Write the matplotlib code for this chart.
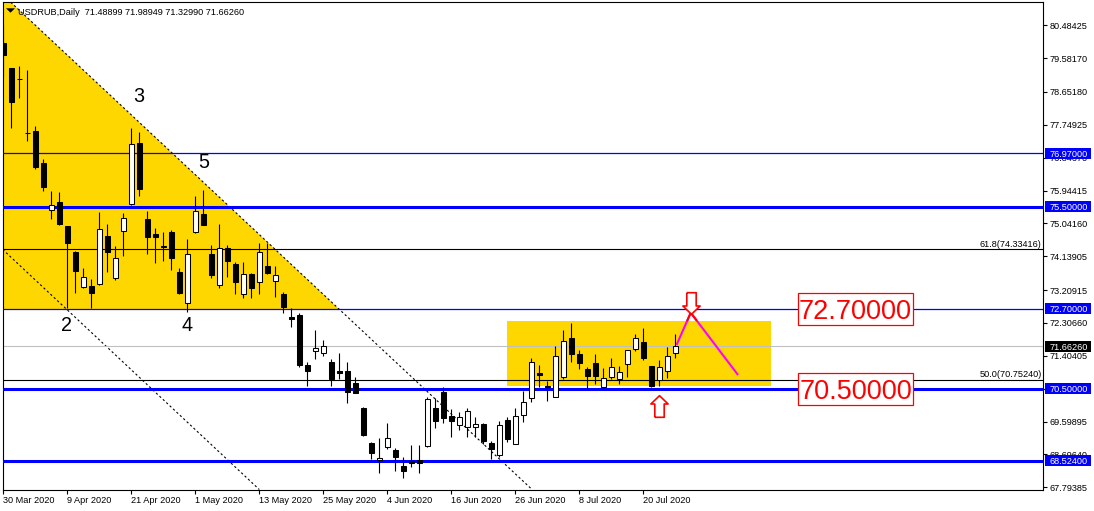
import matplotlib
matplotlib.use("Agg")
import matplotlib.pyplot as plt
import matplotlib.transforms as mtransforms
from matplotlib.patches import Rectangle, Polygon
from matplotlib.path import Path

plt.rcParams['font.family'] = ['Liberation Sans', 'DejaVu Sans']

# ---------------- data ----------------
symbol = "USDRUB,Daily"
date_labels = ["30 Mar 2020", "9 Apr 2020", "21 Apr 2020", "1 May 2020", "13 May 2020",
               "25 May 2020", "4 Jun 2020", "16 Jun 2020", "26 Jun 2020", "8 Jul 2020",
               "20 Jul 2020"]
date_label_bars = [0, 8, 16, 24, 32, 40, 48, 56, 64, 72, 80]

opens = [80.00, 79.31, 79.01, 77.53, 77.58, 76.70, 75.41, 75.63, 74.96, 74.26,
         73.29, 73.32, 73.37, 74.70, 73.53, 74.84, 75.57, 77.24, 75.16, 74.75,
         74.41, 74.80, 73.72, 72.85, 74.81, 75.29, 74.20, 73.34, 74.36, 73.93,
         73.09, 73.65, 73.44, 73.87, 73.45, 73.10, 72.46, 72.53, 71.15, 71.54,
         71.47, 71.24, 70.99, 70.99, 70.65, 69.98, 69.00, 68.53, 68.89, 68.82,
         68.38, 68.52, 68.54, 68.93, 69.96, 70.40, 69.75, 69.50, 69.46, 69.46,
         69.53, 69.02, 68.68, 69.64, 68.98, 69.78, 70.24, 70.92, 70.57, 70.26,
         70.83, 71.89, 71.45, 71.04, 71.20, 70.56, 70.83, 70.77, 71.17, 71.58,
         71.78, 71.12, 70.74, 70.99, 71.48899]
highs = [80.49, 79.31, 79.37, 79.26, 77.72, 76.81, 75.93, 75.90, 74.97, 74.28,
         73.82, 73.51, 75.35, 75.03, 74.42, 75.32, 77.65, 77.56, 75.38, 74.91,
         74.80, 74.86, 73.81, 74.61, 75.79, 75.96, 74.45, 75.03, 74.45, 73.99,
         73.97, 73.67, 74.51, 74.51, 73.88, 73.15, 72.73, 72.57, 71.22, 72.11,
         71.84, 71.32, 71.49, 71.24, 70.83, 69.99, 69.03, 69.14, 69.55, 68.86,
         68.63, 68.95, 68.95, 70.26, 70.24, 70.54, 69.93, 69.87, 69.96, 69.72,
         69.55, 69.06, 69.62, 69.73, 69.96, 70.44, 71.34, 71.15, 70.71, 71.67,
         72.11, 72.31, 71.56, 71.09, 71.45, 71.06, 71.34, 71.12, 71.56, 72.00,
         72.16, 71.12, 71.29, 71.65, 71.98949]
lows = [79.06, 77.66, 78.49, 77.31, 76.54, 75.93, 75.16, 75.00, 72.72, 73.13,
        73.27, 72.71, 73.35, 73.72, 73.49, 74.15, 75.56, 75.80, 74.20, 73.96,
        74.02, 73.76, 73.10, 72.62, 74.79, 74.99, 73.53, 73.28, 73.58, 73.09,
        72.98, 72.98, 73.09, 73.65, 73.01, 72.57, 72.20, 71.10, 70.57, 71.32,
        71.40, 70.57, 70.76, 70.12, 70.37, 69.20, 68.56, 68.19, 68.84, 68.25,
        68.04, 68.36, 68.19, 68.91, 69.41, 69.57, 69.17, 69.37, 69.17, 69.18,
        68.98, 68.56, 68.63, 69.04, 68.97, 69.59, 70.14, 70.54, 70.17, 70.26,
        70.76, 71.22, 71.03, 70.48, 70.63, 70.48, 70.76, 70.63, 70.83, 71.54,
        71.29, 70.54, 70.57, 70.80, 71.32990]
closes = [79.67, 78.38, 79.00, 77.52, 76.59, 76.04, 75.55, 75.03, 74.50, 73.73,
          73.56, 73.14, 74.88, 74.26, 74.08, 75.18, 77.22, 75.98, 74.68, 74.68,
          74.40, 74.10, 73.12, 74.19, 75.39, 75.01, 73.63, 74.36, 74.02, 73.44,
          73.64, 73.28, 74.25, 73.69, 73.62, 72.75, 72.41, 71.15, 71.00, 71.61,
          71.67, 70.76, 70.94, 70.42, 70.37, 69.23, 68.74, 68.59, 69.14, 68.62,
          68.25, 68.47, 68.47, 70.21, 69.62, 69.69, 69.62, 69.72, 69.90, 69.52,
          69.07, 68.84, 69.50, 69.11, 69.75, 70.13, 71.23, 70.89, 70.54, 71.41,
          71.81, 71.45, 71.20, 70.86, 70.86, 70.79, 71.09, 70.95, 71.55, 71.89,
          71.35, 70.57, 71.09, 71.40, 71.66260]

price_ticks = [80.48425, 79.58170, 78.65180, 77.74925, 76.84670, 75.94415, 75.04160,
               74.13905, 73.20915, 72.30660, 71.40405, 70.50150, 69.59895, 68.69640,
               67.79385]

level_prices = [76.97, 75.50, 72.70, 70.50, 68.524]
level_thick = [False, True, False, True, True]
fib_names = ["61.8", "50.0"]
fib_prices = [74.33416, 70.75240]
bid_price = 71.66260

wave_names = ["2", "3", "4", "5"]
wave_bars = [7.96, 16.93, 22.96, 25.0]
wave_prices = [72.085, 78.385, 72.085, 76.555]

trend_upper_bars = [-0.075, 66.0]
trend_upper_prices = [81.325, 67.75]
trend_lower_bars = [-0.075, 32.0]
trend_lower_prices = [74.325, 67.73]

range_bars = [63.0, 96.0]
range_prices = [70.574, 72.36]

forecast_bars = [84.15, 85.93, 91.84]
forecast_prices = [71.70, 72.588, 70.877]

target_prices = [72.70, 70.50]
arrow_down = (86.0, 72.868)
arrow_up = (81.93, 70.025)

# ---------------- figure ----------------
W, H = 1094, 511
fig = plt.figure(figsize=(W / 100, H / 100), dpi=100)
fig.patch.set_facecolor('white')
L_px, R_px, T_px, B_px = 2.7, 1043.0, 2.3, 490.0
ax = fig.add_axes([L_px / W, 1 - B_px / H, (R_px - L_px) / W, (B_px - T_px) / H])
ax.set_xlim(-0.075, 129.96)
ax.set_ylim(67.717, 81.116)
ax.set_facecolor('white')
px_price = (81.116 - 67.717) / (B_px - T_px)
ax_w_px = R_px - L_px

for s in ax.spines.values():
    s.set_color('black')
    s.set_linewidth(0.8)

GOLD = '#FFD700'
BLUE = '#0000FF'

# yellow triangle (between left edge, upper trend line and 72.70)
slope = (trend_upper_prices[1] - trend_upper_prices[0]) / (trend_upper_bars[1] - trend_upper_bars[0])
x_cross = trend_upper_bars[0] + (level_prices[2] - trend_upper_prices[0]) / slope
ax.add_patch(Polygon([(trend_upper_bars[0], trend_upper_prices[0]),
                      (trend_upper_bars[0], level_prices[2]),
                      (x_cross, level_prices[2])],
                     closed=True, facecolor=GOLD, edgecolor='none', zorder=1))
# yellow range rectangle
ax.add_patch(Rectangle((range_bars[0], range_prices[0]), range_bars[1] - range_bars[0],
                       range_prices[1] - range_prices[0], facecolor=GOLD,
                       edgecolor='none', zorder=1))

# dashed trend lines
ax.plot(trend_upper_bars, trend_upper_prices, color='black', lw=0.8,
        linestyle=(0, (2.0, 2.2)), zorder=2)
ax.plot(trend_lower_bars, trend_lower_prices, color='black', lw=0.8,
        linestyle=(0, (2.0, 2.2)), zorder=2)

# horizontal lines
ax.axhline(bid_price, color='#C0C0C0', lw=0.8, zorder=2)
for p in fib_prices:
    ax.axhline(p, color='black', lw=0.8, zorder=3)
for p, thick in zip(level_prices, level_thick):
    ax.axhline(p, color=BLUE, lw=2.2 if thick else 0.9, zorder=3)

# fib texts
for n, p in zip(fib_names, fib_prices):
    ax.text((1041.5 - L_px) / ax_w_px, p + 2.2 * px_price, f"{n}({p:.5f})",
            transform=mtransforms.blended_transform_factory(ax.transAxes, ax.transData),
            ha='right', va='baseline', fontsize=6.6, color='black', zorder=3)

# candles
body_w = 0.56
for i, (o, h, l, c) in enumerate(zip(opens, highs, lows, closes)):
    ax.vlines(i, l, h, color='black', lw=0.8, zorder=4)
    bottom = min(o, c)
    height = max(abs(c - o), 0.012)
    ax.add_patch(Rectangle((i - body_w / 2, bottom), body_w, height,
                           facecolor='white' if c >= o else 'black',
                           edgecolor='black', lw=0.75, zorder=5))

# wave labels
for n, x, y in zip(wave_names, wave_bars, wave_prices):
    ax.text(x, y, n, fontsize=14.2, ha='center', va='baseline', color='black', zorder=6)

# forecast lines (magenta) with red X at apex
ax.plot(forecast_bars, forecast_prices, color='#FF00FF', lw=1.5, zorder=6,
        solid_capstyle='butt')
def seg(p0, p1, t0, t1):
    return ([p0[0] + (p1[0] - p0[0]) * t0, p0[0] + (p1[0] - p0[0]) * t1],
            [p0[1] + (p1[1] - p0[1]) * t0, p0[1] + (p1[1] - p0[1]) * t1])
P = list(zip(forecast_bars, forecast_prices))
xs, ys = seg(P[0], P[1], 0.774, 1.146)
ax.plot(xs, ys, color='#FF0000', lw=1.5, zorder=7)
xs, ys = seg(P[1], P[2], -0.075, 0.117)
ax.plot(xs, ys, color='#FF0000', lw=1.5, zorder=7)

# hollow arrows
down_verts = [(-4.7, 10.8), (4.7, 10.8), (4.7, -2.5), (8.6, -2.5), (0, -10.8),
              (-8.6, -2.5), (-4.7, -2.5), (-4.7, 10.8)]
up_verts = [(x, -y) for x, y in down_verts]
ms = 2 * 10.8 * 72 / 100
ax.plot([arrow_down[0]], [arrow_down[1]], marker=Path(down_verts), ms=ms,
        mfc='white', mec='#FF0000', mew=1.2, zorder=8, linestyle='none')
ax.plot([arrow_up[0]], [arrow_up[1]], marker=Path(up_verts), ms=ms,
        mfc='white', mec='#FF0000', mew=1.2, zorder=8, linestyle='none')

# red target labels
bx0 = (798 - 3.3) / 8
bx1 = (913 - 3.3) / 8
for p in target_prices:
    ax.add_patch(Rectangle((bx0, p - 16 * px_price), bx1 - bx0, 32 * px_price,
                           facecolor='white', edgecolor='#FF0000', lw=0.9, zorder=8))
    ax.text((bx0 + bx1) / 2, p, f"{p:.5f}", fontsize=19.5, color='#FF0000',
            ha='center', va='center_baseline', zorder=9)

# axes ticks
ax.yaxis.tick_right()
ax.set_yticks(price_ticks)
ax.set_yticklabels([f"{v:.5f}" for v in price_ticks])
ax.tick_params(axis='y', length=3.0, width=0.8, pad=1.6, labelsize=6.6, colors='black')
ax.set_xticks(date_label_bars)
ax.set_xticklabels(date_labels, ha='left')
ax.tick_params(axis='x', length=3.0, width=0.8, pad=1.2, labelsize=6.6, colors='black')
for lbl in ax.get_xticklabels():
    lbl.set_x(lbl.get_position()[0])

# right-side price boxes
trans = mtransforms.blended_transform_factory(ax.transAxes, ax.transData)
bxa = (1045 - L_px) / ax_w_px
bwa = 46 / ax_w_px
box_items = [(p, BLUE) for p in level_prices] + [(bid_price, 'black')]
for p, col in box_items:
    ax.add_patch(Rectangle((bxa, p - 5.5 * px_price), bwa, 11 * px_price, transform=trans,
                           facecolor=col, edgecolor='none', clip_on=False, zorder=20))
    ax.text((1049.3 - L_px) / ax_w_px, p, f"{p:.5f}", transform=trans, color='white',
            fontsize=6.6, ha='left', va='center_baseline', clip_on=False, zorder=21)

# header
fig.text(18.3 / W, 1 - 11 / H,
         f"{symbol}  {opens[-1]:.5f} {highs[-1]:.5f} {lows[-1]:.5f} {closes[-1]:.5f}",
         fontsize=6.6, color='black', ha='left', va='center_baseline')
fig.add_artist(Polygon([(6 / W, 1 - 8.3 / H), (15 / W, 1 - 8.3 / H), (10.5 / W, 1 - 12.7 / H)],
                       closed=True, facecolor='black', edgecolor='none',
                       transform=fig.transFigure))

fig.savefig("out.png", dpi=100)
